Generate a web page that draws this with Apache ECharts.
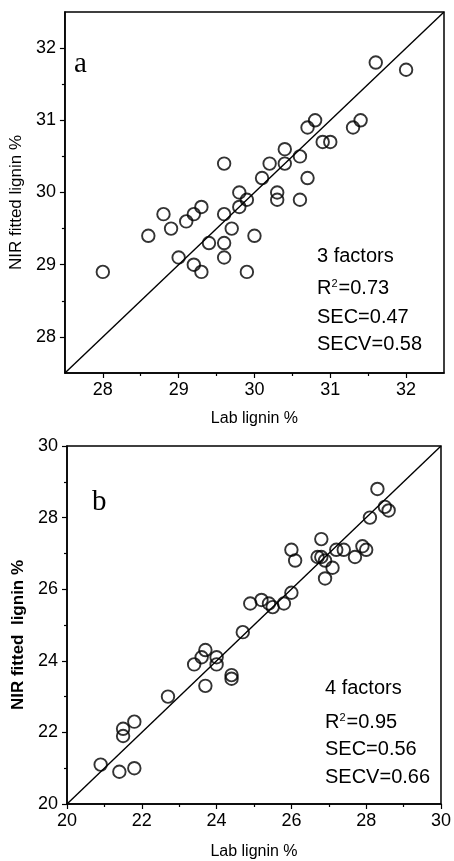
<!DOCTYPE html>
<html>
<head>
<meta charset="utf-8">
<script src="https://cdn.jsdelivr.net/npm/echarts@6/dist/echarts.min.js"></script>
<style>
  html, body { margin: 0; padding: 0; background: #fff; }
  #chart { width: 454px; height: 861px; }
</style>
</head>
<body>
<div id="chart"></div>
<script>
// panel a - 3 factors
const labA = [28.0, 28.6, 28.8, 28.9, 29.0, 29.1, 29.2, 29.2, 29.3, 29.3, 29.4, 29.6, 29.6, 29.6, 29.6, 29.7, 29.8, 29.8, 29.9,
  29.9, 30.0, 30.1, 30.2, 30.3, 30.3, 30.4, 30.4, 30.6, 30.6, 30.7, 30.7, 30.8, 30.9, 31.0, 31.3, 31.4, 31.6, 32.0];
const fitA = [28.9, 29.4, 29.7, 29.5, 29.1, 29.6, 29.7, 29.0, 29.8, 28.9, 29.3, 29.7, 29.3, 29.1, 30.4, 29.5, 29.8, 30.0, 29.9,
  28.9, 29.4, 30.2, 30.4, 30.0, 29.9, 30.6, 30.4, 30.5, 29.9, 30.9, 30.2, 31.0, 30.7, 30.7, 30.9, 31.0, 31.8, 31.7];

// panel b - 4 factors
const labB = [20.9, 21.4, 21.5, 21.5, 21.8, 21.8, 22.7, 23.4, 23.6, 23.7, 23.7, 24.0, 24.0, 24.4, 24.4, 24.7, 24.9, 25.2, 25.4, 25.5,
  25.8, 26.0, 26.0, 26.1, 26.7, 26.8, 26.8, 26.9, 26.9, 27.1, 27.2, 27.4, 27.7, 27.9, 28.0, 28.1, 28.3, 28.5, 28.6];
const fitB = [21.1, 20.9, 21.9, 22.1, 22.3, 21.0, 23.0, 23.9, 24.1, 24.3, 23.3, 24.1, 23.9, 23.6, 23.5, 24.8, 25.6, 25.7, 25.6, 25.5,
  25.6, 25.9, 27.1, 26.8, 26.9, 26.9, 27.4, 26.8, 26.3, 26.6, 27.1, 27.1, 26.9, 27.2, 27.1, 28.0, 28.8, 28.3, 28.2];

const rangeA = [27.5, 32.5];
const rangeB = [20, 30];
const ticksA = [28, 29, 30, 31, 32];
const minorA = [28.5, 29.5, 30.5, 31.5];
const statsA = ['3 factors', 'R{sup|2}=0.73', 'SEC=0.47', 'SECV=0.58'];
const statsB = ['4 factors', 'R{sup|2}=0.95', 'SEC=0.56', 'SECV=0.66'];

const FONT = 'Liberation Sans, Arial, sans-serif';
const black = '#000';

function pairs(xs, ys) {
  return xs.map((x, i) => [x, ys[i]]);
}

const lineStyle = { color: black, width: 1.5 };

function mainAxis(grid, pos, range, extra) {
  return Object.assign({
    type: 'value', gridIndex: grid, position: pos,
    min: range[0], max: range[1],
    axisLine: { show: true, onZero: false, lineStyle: lineStyle },
    axisTick: { show: true, inside: false, length: 5, lineStyle: { color: black, width: 1.2 } },
    axisLabel: { color: black, fontSize: 18, fontFamily: FONT, margin: 8 },
    splitLine: { show: false },
    nameLocation: 'middle',
    nameTextStyle: { color: black, fontSize: 16, fontFamily: FONT }
  }, extra);
}

function minorAxis(grid, pos, range, values) {
  return {
    type: 'value', gridIndex: grid, position: pos,
    min: range[0], max: range[1],
    axisLine: { show: false, onZero: false },
    axisTick: { show: true, inside: false, length: 3, customValues: values, lineStyle: { color: black, width: 1.2 } },
    axisLabel: { show: false },
    splitLine: { show: false }
  };
}

function statText(lines, x, ys) {
  return lines.map((t, i) => ({
    type: 'text', x: x, y: ys[i],
    style: {
      text: t, fill: black, fontSize: 20, fontFamily: FONT, verticalAlign: 'middle',
      rich: { sup: { fontSize: 11, fontFamily: FONT, fill: black, verticalAlign: 'top', padding: [0, 1, 0, 0] } }
    }
  }));
}

const circle = {
  type: 'scatter', symbol: 'circle', symbolSize: 12.5,
  itemStyle: { color: 'rgba(0,0,0,0)', borderColor: black, borderWidth: 1.9 },
  z: 3
};

let myChart = echarts.init(document.querySelector('#chart'));
myChart.setOption({
  animation: false,
  grid: [
    { left: 62, top: 12, width: 382, height: 361, show: true, borderColor: black, borderWidth: 1.5 },
    { left: 67, top: 446, width: 377, height: 358, show: true, borderColor: black, borderWidth: 1.5 }
  ],
  xAxis: [
    mainAxis(0, 'bottom', rangeA, {
      name: 'Lab lignin %', nameGap: 38,
      axisTick: { show: true, inside: false, length: 5, customValues: ticksA, lineStyle: { color: black, width: 1.2 } },
      axisLabel: { color: black, fontSize: 18, fontFamily: FONT, margin: 8, customValues: ticksA }
    }),
    minorAxis(0, 'bottom', rangeA, minorA),
    mainAxis(1, 'bottom', rangeB, {
      name: 'Lab lignin %', nameGap: 40, interval: 2,
      minorTick: { show: true, splitNumber: 2, length: 3, lineStyle: { color: black, width: 1.2 } }
    })
  ],
  yAxis: [
    mainAxis(0, 'left', rangeA, {
      name: 'NIR fitted lignin %', nameGap: 32,
      nameTextStyle: { color: black, fontSize: 17, fontFamily: FONT, padding: [0, 20, 0, 0] },
      axisTick: { show: true, inside: false, length: 5, customValues: ticksA, lineStyle: { color: black, width: 1.2 } },
      axisLabel: { color: black, fontSize: 18, fontFamily: FONT, margin: 9, customValues: ticksA }
    }),
    minorAxis(0, 'left', rangeA, minorA),
    mainAxis(1, 'left', rangeB, {
      name: 'NIR fitted  lignin %', nameGap: 40, interval: 2,
      nameTextStyle: { color: black, fontSize: 17, fontWeight: 'bold', fontFamily: FONT, padding: [0, 20, 0, 0] },
      axisLabel: { color: black, fontSize: 18, fontFamily: FONT, margin: 9 },
      minorTick: { show: true, splitNumber: 2, length: 3, lineStyle: { color: black, width: 1.2 } }
    })
  ],
  series: [
    {
      type: 'line', xAxisIndex: 0, yAxisIndex: 0, showSymbol: false, silent: true,
      lineStyle: { color: black, width: 1.4 },
      data: [[rangeA[0], rangeA[0]], [rangeA[1], rangeA[1]]]
    },
    Object.assign({}, circle, { xAxisIndex: 0, yAxisIndex: 0, data: pairs(labA, fitA) }),
    {
      type: 'line', xAxisIndex: 2, yAxisIndex: 2, showSymbol: false, silent: true,
      lineStyle: { color: black, width: 1.4 },
      data: [[rangeB[0], rangeB[0]], [rangeB[1], rangeB[1]]]
    },
    Object.assign({}, circle, { xAxisIndex: 2, yAxisIndex: 2, data: pairs(labB, fitB) })
  ],
  graphic: [
    { type: 'text', x: 74, y: 64, style: { text: 'a', fill: black, fontSize: 29, fontFamily: 'Liberation Serif, Times New Roman, serif', verticalAlign: 'middle' } },
    { type: 'text', x: 92, y: 502, style: { text: 'b', fill: black, fontSize: 29, fontFamily: 'Liberation Serif, Times New Roman, serif', verticalAlign: 'middle' } }
  ].concat(statText(statsA, 317, [256, 288, 317, 344]))
   .concat(statText(statsB, 325, [688, 722, 749, 777]))
});
</script>
</body>
</html>
